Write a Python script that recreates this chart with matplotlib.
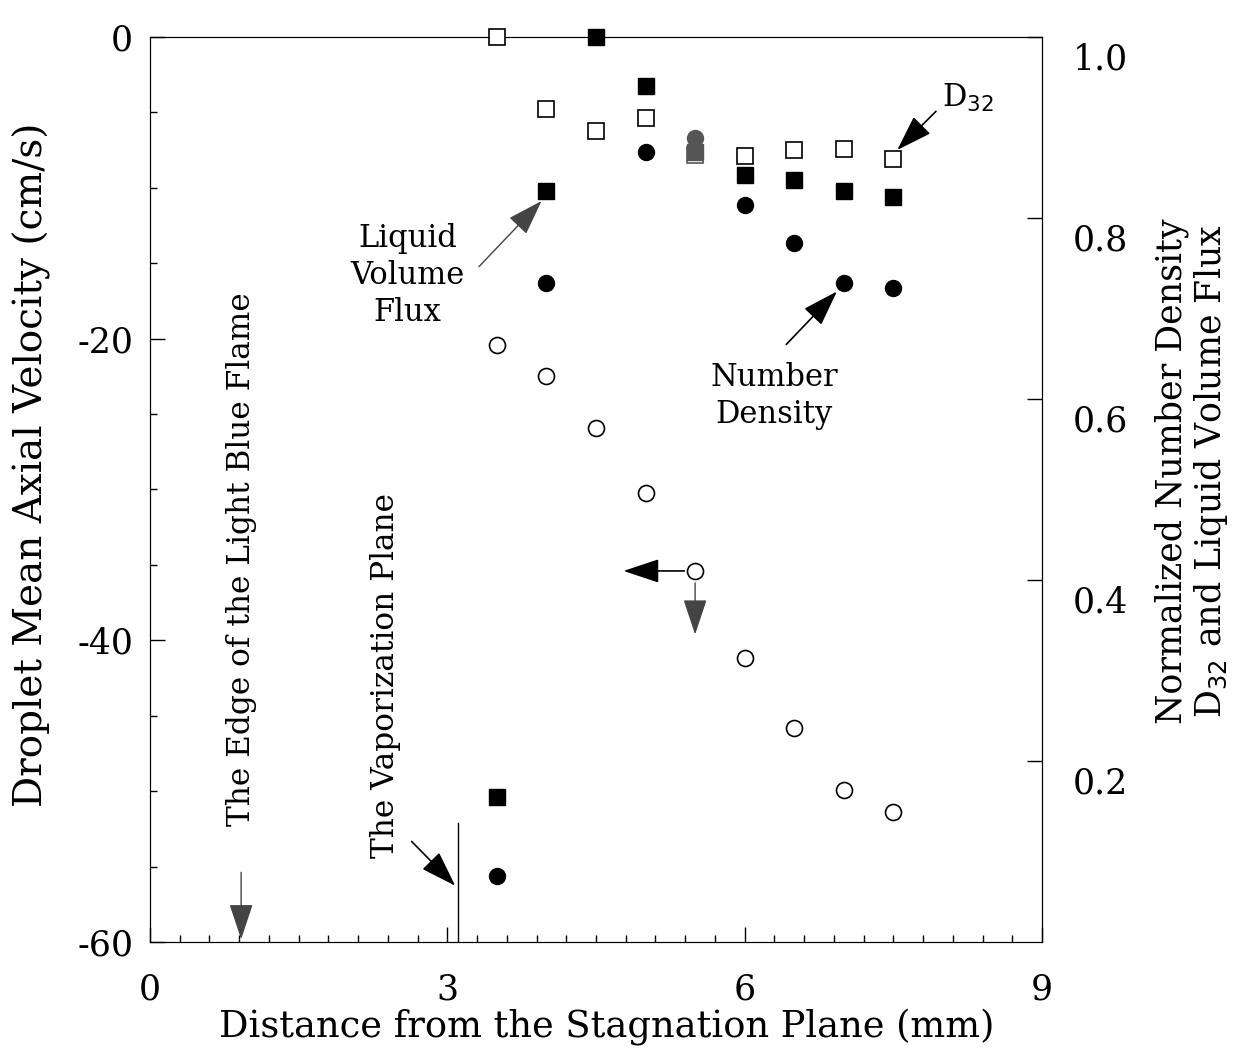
import numpy as np
import matplotlib
matplotlib.use("Agg")
import matplotlib.pyplot as plt
from matplotlib.ticker import MultipleLocator
from matplotlib.transforms import ScaledTranslation

plt.rcParams['font.family'] = ['DejaVu Serif']
plt.rcParams['axes.unicode_minus'] = False

# distance from stagnation plane (mm)
dist = [3.5, 4.0, 4.5, 5.0, 5.5, 6.0, 6.5, 7.0, 7.5]
# droplet mean axial velocity (cm/s), left axis
velocity = [-20.4, -22.5, -25.9, -30.2, -35.4, -41.2, -45.8, -49.9, -51.4]
# normalized quantities, right axis
d32 = [1.0, 0.920, 0.896, 0.910, 0.870, 0.868, 0.875, 0.876, 0.865]
flux = [0.160, 0.830, 1.0, 0.946, 0.873, 0.848, 0.842, 0.830, 0.823]
dens_x = [3.5, 4.0, 5.0, 5.5, 6.0, 6.5, 7.0, 7.5]
density = [0.073, 0.728, 0.873, 0.888, 0.814, 0.772, 0.728, 0.723]
right_ticks = [0.2, 0.4, 0.6, 0.8, 1.0]

fig = plt.figure(figsize=(12.6, 10.53), dpi=100)
ax = fig.add_axes([0.119, 0.1054, 0.708, 0.8595])
ax2 = ax.twinx()

ax.set_xlim(0, 9)
ax.set_ylim(-60, 0)
ax2.set_ylim(0, 1.0)

ax.plot(dist, velocity, 'o', mfc='white', mec='black', ms=11.5, mew=1.2, zorder=3)

cols = ['#555555' if x == 5.5 else 'black' for x in dist]
dcols = ['#555555' if x == 5.5 else 'black' for x in dens_x]
for x, y, c in zip(dist, d32, cols):
    ax2.plot(x, y, 's', mfc='white', mec=c, ms=12, mew=1.2, zorder=3, clip_on=False)
for x, y, c in zip(dist, flux, cols):
    ax2.plot(x, y, 's', mfc=c, mec=c, ms=12, zorder=3, clip_on=False)
for x, y, c in zip(dens_x, density, dcols):
    ax2.plot(x, y, 'o', mfc=c, mec=c, ms=11.5, zorder=3)

for a in (ax, ax2):
    a.tick_params(direction='in', which='both', labelsize=25, width=1.0)
    a.tick_params(which='major', length=11)
    a.tick_params(which='minor', length=5)
ax.tick_params(axis='x', pad=22)
ax.tick_params(axis='y', pad=12)
ax2.tick_params(axis='y', pad=22)
ax.xaxis.set_major_locator(MultipleLocator(3))
ax.xaxis.set_minor_locator(MultipleLocator(0.3))
ax.yaxis.set_major_locator(MultipleLocator(20))
ax.yaxis.set_minor_locator(MultipleLocator(5))
ax2.set_yticks(right_ticks)
ax2.set_yticklabels([f'{t:.1f}' for t in right_ticks])
# the right-hand labels sit a little below their tick marks in the original
for lab in ax2.get_yticklabels():
    lab.set_transform(lab.get_transform() + ScaledTranslation(0, -0.19, fig.dpi_scale_trans))

ax.text(0.512, -0.093, 'Distance from the Stagnation Plane (mm)', fontsize=26.5,
        ha='center', va='center', transform=ax.transAxes)
ax.text(-0.133, 0.527, 'Droplet Mean Axial Velocity (cm/s)', fontsize=28,
        rotation=90, ha='center', va='center', transform=ax.transAxes)
ax.text(1.168, 0.52, 'Normalized Number Density\nD$_{32}$ and Liquid Volume Flux',
        fontsize=25, rotation=90, ha='center', va='center', linespacing=1.1,
        transform=ax.transAxes)

akw = dict(arrowstyle='-|>,head_length=1.5,head_width=0.5', color='black',
           lw=1.2, mutation_scale=15)
gkw = dict(akw, color='#444444', lw=1.0)
# D32 label
ax2.annotate('', xy=(7.52, 0.873), xytext=(7.95, 0.920), arrowprops=akw)
ax2.text(8.25, 0.915, 'D$_{32}$', fontsize=22, ha='center', va='bottom')
# liquid volume flux
ax2.annotate('', xy=(3.97, 0.821), xytext=(3.3, 0.744), arrowprops=gkw)
ax2.text(2.6, 0.736, 'Liquid\nVolume\nFlux', fontsize=22, ha='center', va='center',
         linespacing=1.25)
# number density
ax2.annotate('', xy=(6.95, 0.721), xytext=(6.4, 0.658), arrowprops=akw)
ax2.text(6.3, 0.603, 'Number\nDensity', fontsize=22, ha='center', va='center',
         linespacing=1.25)
# arrows from the open circle to the left axis
ax.annotate('', xy=(4.75, -35.4), xytext=(5.42, -35.4), arrowprops=akw)
ax.annotate('', xy=(5.5, -39.8), xytext=(5.5, -36.0), arrowprops=gkw)
# flame edge
ax.annotate('', xy=(0.92, -60), xytext=(0.92, -55.2), arrowprops=gkw)
ax.text(0.92, -34.6, 'The Edge of the Light Blue Flame', rotation=90,
        fontsize=22.5, ha='center', va='center')
# vaporization plane
ax.plot([3.11, 3.11], [-60, -52.1], color='black', lw=1.0)
ax.annotate('', xy=(3.1, -56.4), xytext=(2.62, -53.2), arrowprops=akw)
ax.text(2.38, -42.3, 'The Vaporization Plane', rotation=90,
        fontsize=22.5, ha='center', va='center')

fig.savefig('out.png', dpi=100)
